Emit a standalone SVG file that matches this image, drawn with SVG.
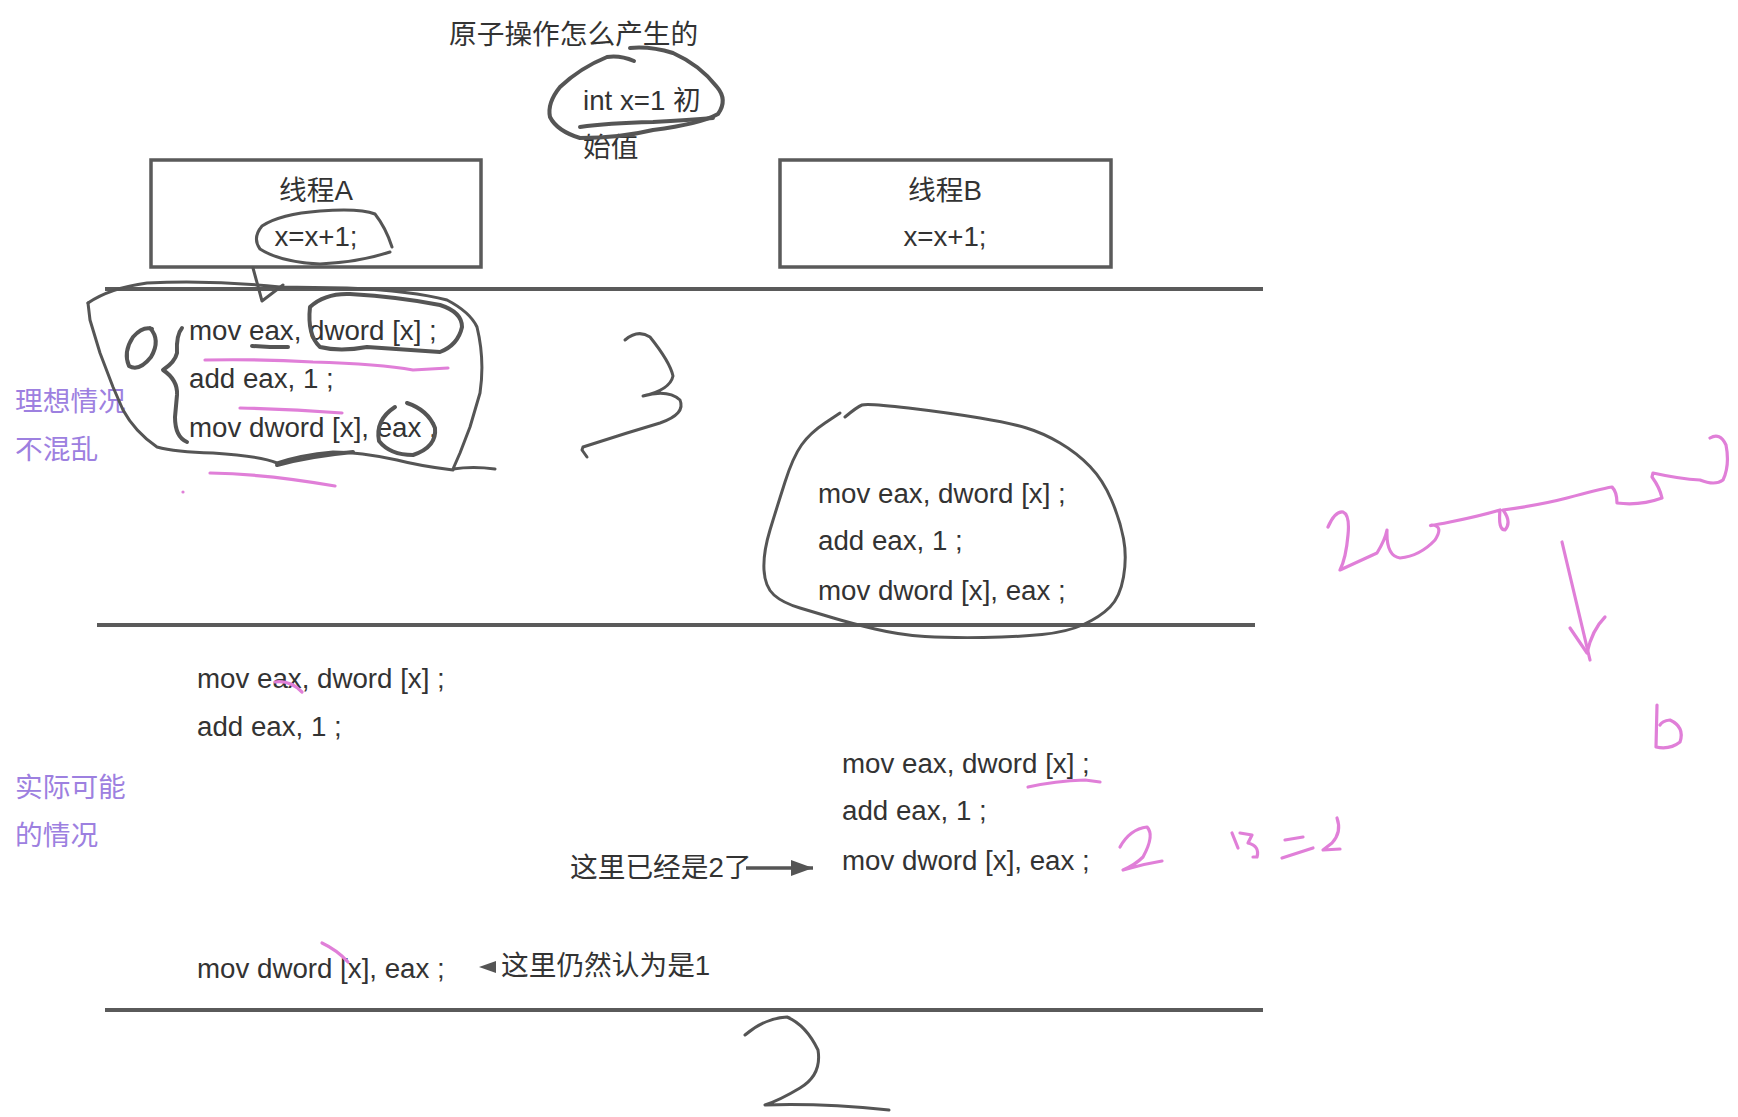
<svg xmlns="http://www.w3.org/2000/svg" width="1738" height="1117" viewBox="0 0 1738 1117">
<style>
text{font-family:"Liberation Sans","Noto Sans CJK SC",sans-serif;font-size:27.7px;fill:#333}
.lab{fill:#9d80e0}
.box{fill:#fff;stroke:#5a5a5a;stroke-width:3.5}
.rule{stroke:#5a5a5a;stroke-width:4;fill:none}
.ink{fill:none;stroke:#555;stroke-width:4;stroke-linecap:round;stroke-linejoin:round}
.ink3{fill:none;stroke:#555;stroke-width:3;stroke-linecap:round;stroke-linejoin:round}
.pink{fill:none;stroke:#e07fd8;stroke-width:3.2;stroke-linecap:round;stroke-linejoin:round}
</style>
<defs>
<marker id="ah" markerWidth="22" markerHeight="16" refX="22" refY="8" orient="auto" markerUnits="userSpaceOnUse" viewBox="0 0 22 16">
<path d="M0,0 L22,8 L0,16 z" fill="#555"/>
</marker>
</defs>
<rect width="1738" height="1117" fill="#fff"/>

<g id="title"><text x="449" y="44">原子操作怎么产生的</text></g>
<g id="init"><text x="583" y="110">int x=1 初</text><text x="583" y="157">始值</text></g>

<g id="threadA"><rect class="box" x="151" y="160" width="330" height="107"/>
<text x="316" y="200" text-anchor="middle">线程A</text>
<text x="316" y="246" text-anchor="middle">x=x+1;</text></g>
<g id="threadB"><rect class="box" x="780" y="160" width="331" height="107"/>
<text x="945" y="200" text-anchor="middle">线程B</text>
<text x="945" y="246" text-anchor="middle">x=x+1;</text></g>

<g id="ideal-label"><text class="lab" x="15" y="411">理想情况</text><text class="lab" x="15" y="459">不混乱</text></g>
<g id="real-label"><text class="lab" x="15" y="797">实际可能</text><text class="lab" x="15" y="845">的情况</text></g>

<g id="ideal-A"><text x="189" y="340">mov eax, dword [x] ;</text><text x="189" y="388">add eax, 1 ;</text><text x="189" y="437">mov dword [x], eax ;</text></g>
<g id="ideal-B"><text x="818" y="503">mov eax, dword [x] ;</text><text x="818" y="550">add eax, 1 ;</text><text x="818" y="600">mov dword [x], eax ;</text></g>
<g id="real-A1"><text x="197" y="688">mov eax, dword [x] ;</text><text x="197" y="736">add eax, 1 ;</text></g>
<g id="real-B"><text x="842" y="773">mov eax, dword [x] ;</text><text x="842" y="820">add eax, 1 ;</text><text x="842" y="870">mov dword [x], eax ;</text></g>
<g id="real-A2"><text x="197" y="978">mov dword [x], eax ;</text></g>
<g id="note2"><text x="570" y="877">这里已经是2了</text></g>
<g id="note1"><text x="501" y="975">这里仍然认为是1</text></g>

<g id="connectors">
<line class="rule" x1="105" y1="289" x2="1263" y2="289"/>
<line class="rule" x1="97" y1="625" x2="1255" y2="625"/>
<line class="rule" x1="105" y1="1010" x2="1263" y2="1010"/>
<line x1="746" y1="868" x2="813" y2="868" stroke="#555" stroke-width="3.5" marker-end="url(#ah)"/>
<path d="M496,961 L479,967 L496,973 z" fill="#555"/>
</g>

<g id="ink">
<path class="ink" d="M634,61 Q620,55 607,57 Q580,68 560,87 Q547,103 550,117 Q557,131 580,138 Q620,138 653,130 Q700,124 718,114 Q728,100 717,87 Q700,65 673,53 Q650,46 630,48"/>
<path class="ink" d="M580,127 Q607,123 653,122 Q690,120 713,118"/>
<path class="ink3" d="M392,247 Q386,228 375,214 Q360,208 320,211 Q280,214 262,226 Q252,238 260,249 Q280,262 320,264 Q360,262 390,252"/>
<path class="ink3" d="M253,268 L262,301 L283,285"/>
<path class="ink3" d="M88,303 Q110,288 147,283 Q213,280 280,287 L347,288 Q413,291 447,300 Q470,312 477,327 Q485,360 480,393 L470,427 L460,453 L453,469 Q473,466 495,469"/>
<path class="ink3" d="M453,470 Q420,466 397,460 Q360,452 333,452 Q300,455 277,463 Q260,456 213,453 Q175,452 157,447 Q135,432 123,410 L113,387 L100,353 L90,320 L88,303"/>
<path class="ink" d="M277,465 Q310,456 353,452"/>
<path class="ink" d="M310,307 Q325,293 350,294 Q400,297 440,305 Q462,312 462,327 Q458,345 440,352 Q413,350 367,347 Q340,352 320,347 Q307,335 310,307"/>
<path class="ink" d="M252,346 L270,347 L288,347"/>
<path class="ink" d="M407,403 Q428,410 435,428 Q437,447 413,455 Q390,455 379,441 Q375,420 395,407"/>
<path class="ink" d="M150,328 Q161,340 151,357 Q139,372 129,366 Q123,352 133,337 Q143,326 152,329"/>
<path class="ink" d="M182,328 Q176,335 177,353 Q175,362 163,370 Q178,380 177,395 L175,417 Q175,437 187,442"/>
<path class="ink3" d="M625,340 Q638,329 650,337 Q670,362 673,376 Q670,390 643,396 Q668,389 680,400 Q686,414 660,423 L627,433 L583,447 L582,450 L587,457"/>
<path class="ink3" d="M840,413 L825,423 Q810,433 801.5,445 Q793,457 785,482 Q777,507 770,530 Q763,553 764,570 Q765,587 774,595 Q783,603 800,608 Q817,613 833.5,618 Q850,623 875,629 Q900,635 925,636.5 Q950,638 983.5,637.5 Q1017,637 1042,634.5 Q1067,632 1083.5,624.5 Q1100,617 1110,607 Q1120,597 1123.5,577 Q1127,557 1123.5,538.5 Q1120,520 1111.5,500 Q1103,480 1090,466.5 Q1077,453 1060,443 Q1043,433 1026.5,428 Q1010,423 980,418 Q950,413 908.5,408 Q867,403 862,405 Q857,407 845,417"/>
<path class="ink3" d="M745,1035 Q765,1018 787,1017 Q806,1025 818,1050 Q822,1075 800,1088 Q780,1100 765,1105 Q820,1103 889,1110"/>
</g>

<g id="pink">
<path class="pink" d="M205,360 Q260,359 313,362 Q380,364 413,370 L448,368"/>
<path class="pink" d="M240,408 Q290,409 342,413"/>
<path class="pink" d="M210,473 Q267,474 335,486"/>
<circle cx="183" cy="492" r="1.6" fill="#e07fd8"/>
<path class="pink" d="M275,682 Q290,680 302,692"/>
<path class="pink" d="M322,943 Q337,950 348,962"/>
<path class="pink" d="M1028,787 Q1055,781 1085,780 L1100,782"/>
<path class="pink" d="M1328,527 Q1335,511 1343,512 Q1350,515 1348,535 Q1346,558 1340,570 L1377,553 Q1385,540 1387,530 Q1386,556 1400,558 Q1420,556 1435,540 Q1444,526 1432,525 Q1425,527 1450,522 Q1480,516 1500,510 Q1498,530 1505,530 Q1512,522 1503,510 Q1540,505 1567,498 Q1600,489 1612,487 Q1617,492 1617,503 Q1640,506 1662,498 Q1660,488 1652,477 L1653,473 Q1680,479 1700,480 Q1715,486 1723,480 Q1730,465 1726,445 Q1720,432 1710,438"/>
<path class="pink" d="M1562,542 L1590,660"/>
<path class="pink" d="M1570,628 L1587,653 Q1592,630 1605,617"/>
<path class="pink" d="M1657,705 L1656,747 Q1670,750 1680,742 Q1685,727 1670,720 Q1662,721 1660,725"/>
<path class="pink" d="M1120,847 Q1130,829 1147,827 Q1155,835 1143,857 Q1135,865 1123,870 Q1143,864 1162,861"/>
<path class="pink" d="M1232,833 L1238,848 M1240,833 L1252,835 L1248,843 Q1260,846 1257,857 L1253,857"/>
<path class="pink" d="M1285,840 L1303,837 M1282,858 L1313,848"/>
<path class="pink" d="M1337,818 Q1342,832 1332,843 L1323,850 L1340,849"/>
</g>
</svg>
